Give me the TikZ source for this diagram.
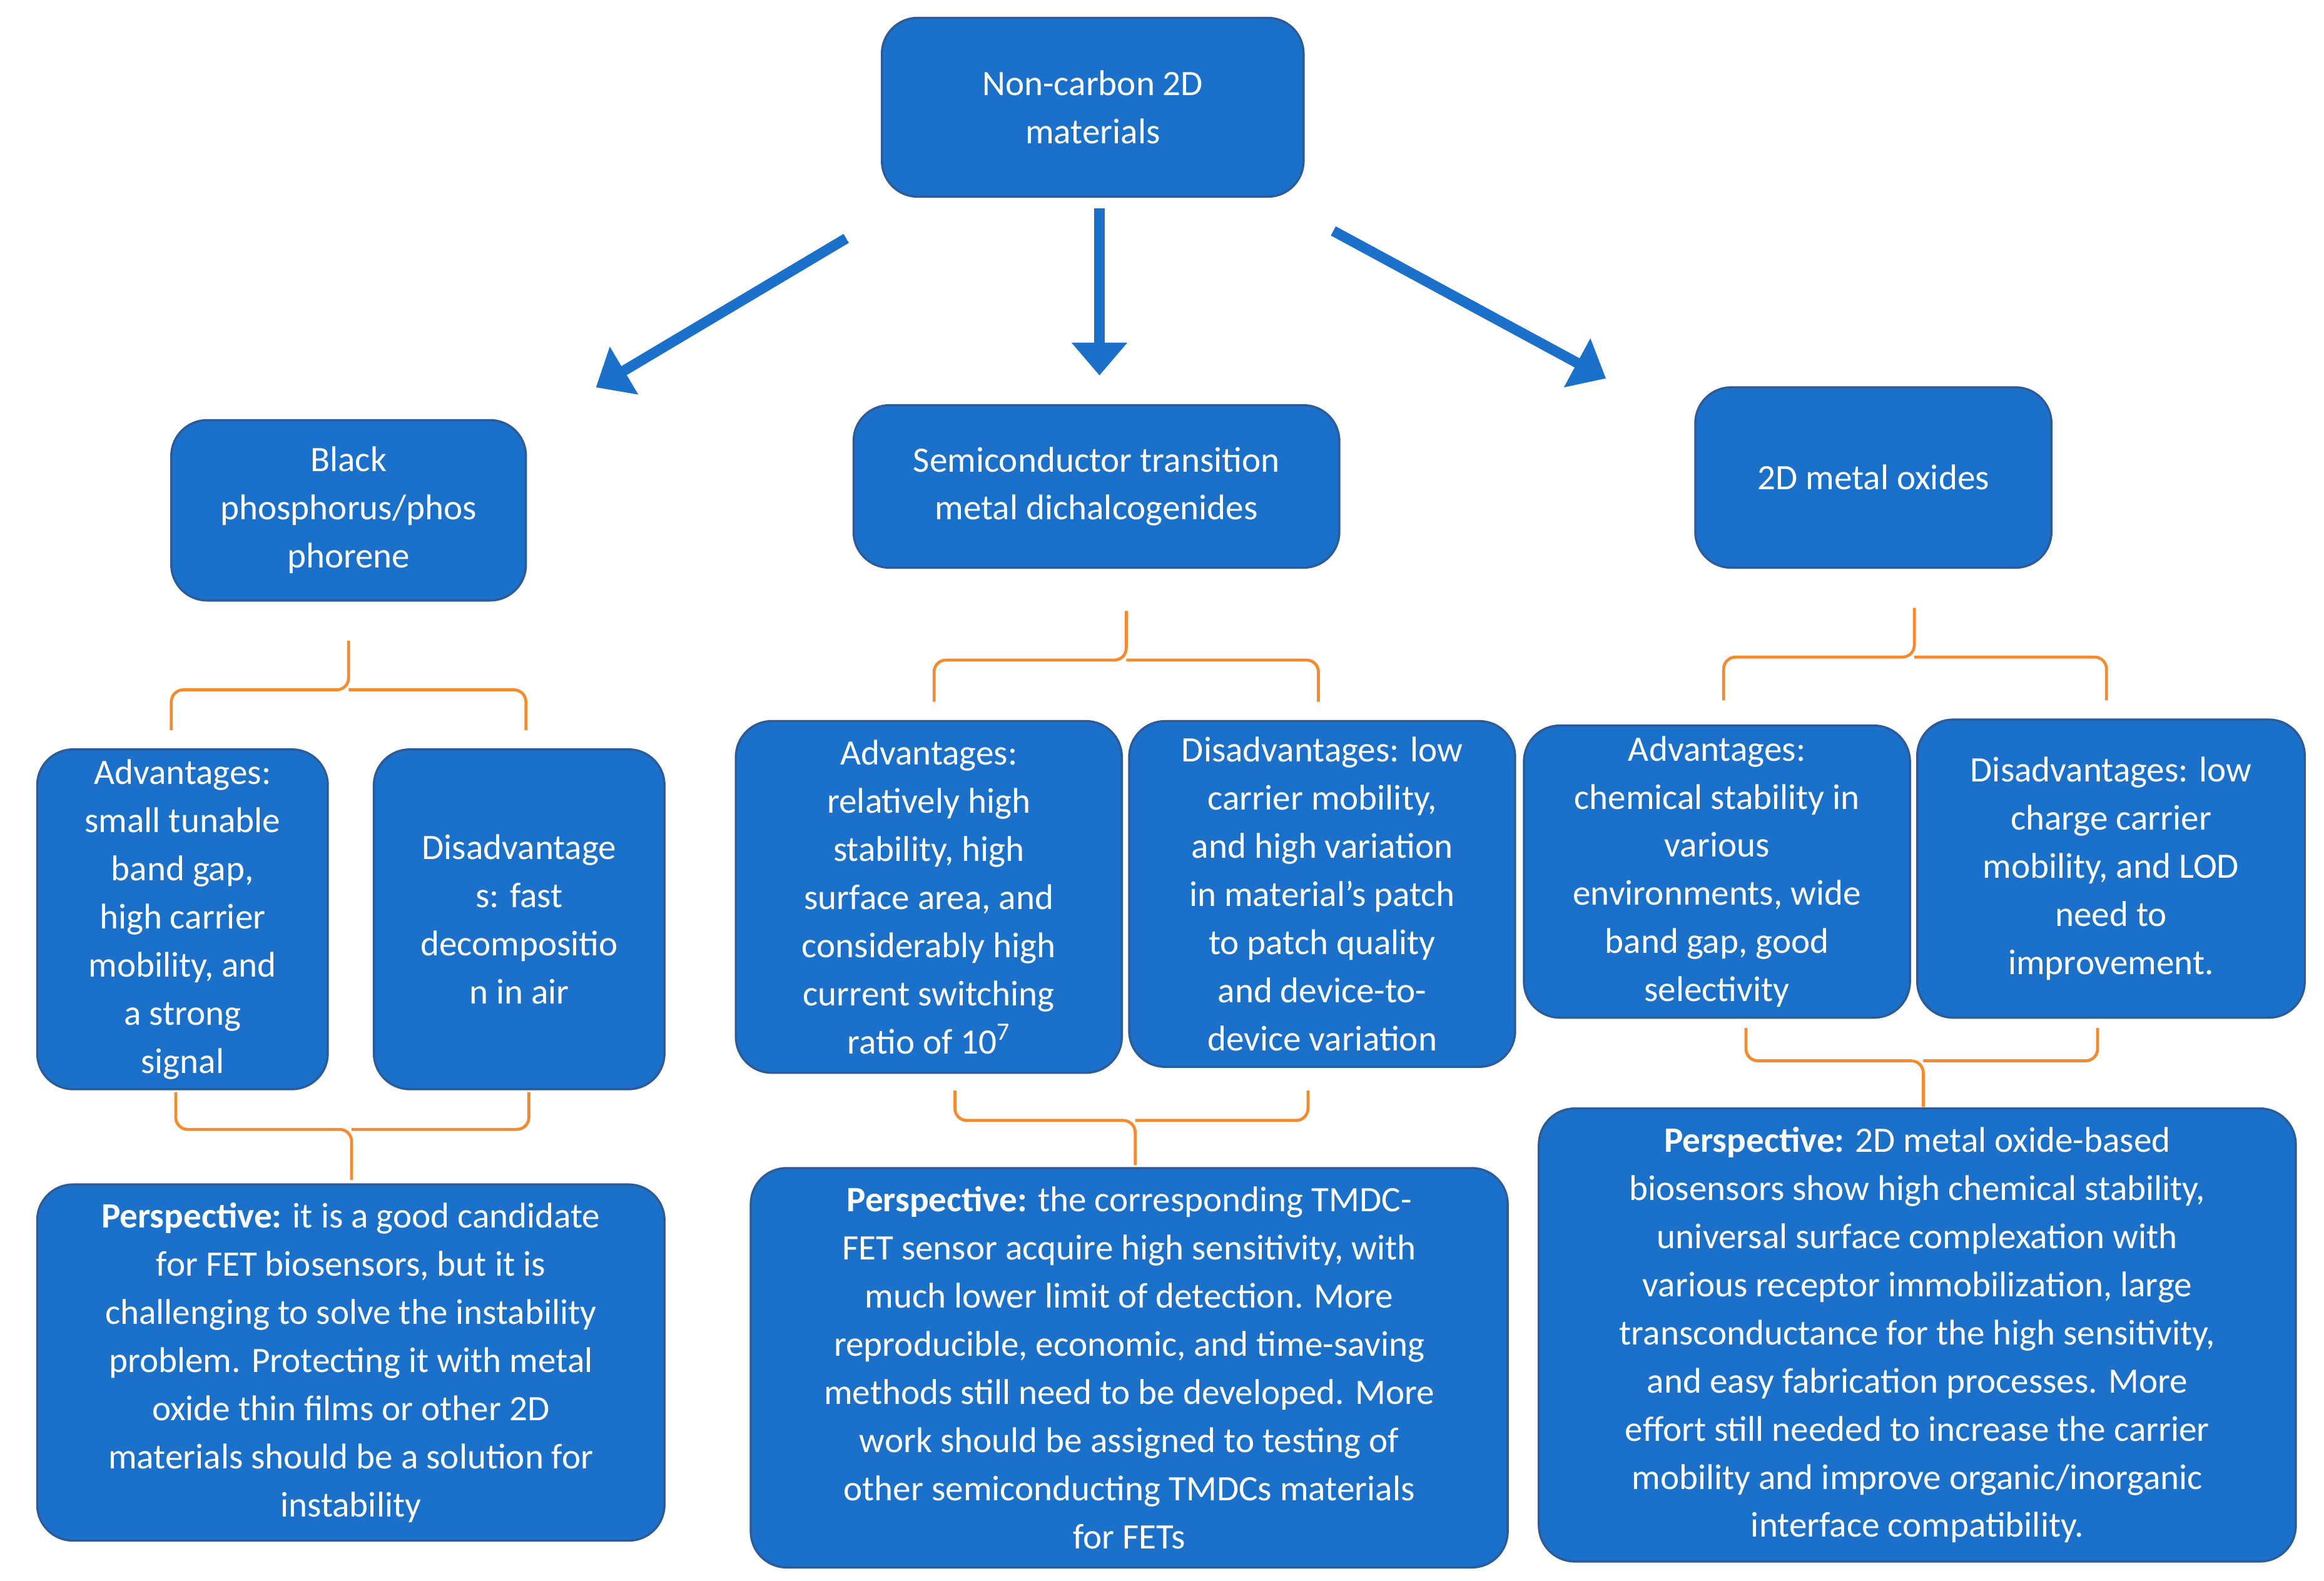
\documentclass[tikz,border=0pt]{standalone}
\usepackage{fontspec}
\setmainfont{Carlito}
\usetikzlibrary{arrows.meta}
\definecolor{boxblue}{HTML}{1B71C9}
\definecolor{edgeblue}{HTML}{2B5B9A}
\definecolor{brace}{HTML}{F58A2E}
\tikzset{
 box/.style={rounded corners=24pt,fill=boxblue,draw=edgeblue,line width=1.5pt,text=white,align=center,inner sep=0pt,font=\fontsize{24}{32.3}\selectfont},
 bigarrow/.style={draw=boxblue,line width=7pt,-{Triangle[length=22pt,width=36pt]}},
 br/.style={draw=brace,line width=2pt,rounded corners=8pt}
}
\newcommand{\mybrace}[6]{% x1 x2 yend ybar xc ytip
 \draw[br] (#1,#3) -- (#1,#4) -- (#5,#4) -- (#5,#6);
 \draw[br] (#2,#3) -- (#2,#4) -- (#5,#4);
}
\begin{document}
\begin{tikzpicture}[x=1pt,y=-1pt]
\useasboundingbox (0,0) rectangle (1560,1061);
\node[box,minimum width=283pt,minimum height=120pt] (top) at (733.5,72) {Non-carbon 2D\\materials};
\node[box,minimum width=238pt,minimum height=121pt] (bp) at (234,342.5) {Black\\phosphorus/phos\\phorene};
\node[box,minimum width=326pt,minimum height=109pt] (tmd) at (736,326.5) {Semiconductor transition\\metal dichalcogenides};
\node[box,minimum width=239pt,minimum height=121pt] (mo) at (1257.5,320.5) {2D metal oxides};
\node[box,minimum width=195pt,minimum height=228pt] (a1) at (122.5,617) {Advantages:\\small tunable\\band gap,\\high carrier\\mobility, and\\a strong\\signal};
\node[box,minimum width=195pt,minimum height=228pt] (d1) at (348.5,617) {Disadvantage\\s: fast\\decompositio\\n in air};
\node[box,minimum width=259pt,minimum height=236pt] (a2) at (623.5,602) {Advantages:\\relatively high\\stability, high\\surface area, and\\considerably high\\current switching\\ratio of 10\textsuperscript{7}};
\node[box,minimum width=259pt,minimum height=232pt] (d2) at (887.5,600) {Disadvantages: low\\carrier mobility,\\and high variation\\in material’s patch\\to patch quality\\and device-to-\\device variation};
\node[box,minimum width=259pt,minimum height=196pt] (a3) at (1152.5,585) {Advantages:\\chemical stability in\\various\\environments, wide\\band gap, good\\selectivity};
\node[box,minimum width=260pt,minimum height=200pt] (d3) at (1417,583) {Disadvantages: low\\charge carrier\\mobility, and LOD\\need to\\improvement.};
\node[box,minimum width=421pt,minimum height=239pt] (p1) at (235.5,914.5) {\textbf{Perspective:} it is a good candidate\\for FET biosensors, but it is\\challenging to solve the instability\\problem. Protecting it with metal\\oxide thin films or other 2D\\materials should be a solution for\\instability};
\node[box,minimum width=508pt,minimum height=268pt] (p2) at (758,918) {\textbf{Perspective:} the corresponding TMDC-\\FET sensor acquire high sensitivity, with\\much lower limit of detection. More\\reproducible, economic, and time-saving\\methods still need to be developed. More\\work should be assigned to testing of\\other semiconducting TMDCs materials\\for FETs};
\node[box,minimum width=508pt,minimum height=304pt] (p3) at (1287,896) {\textbf{Perspective:} 2D metal oxide-based\\biosensors show high chemical stability,\\universal surface complexation with\\various receptor immobilization, large\\transconductance for the high sensitivity,\\and easy fabrication processes. More\\effort still needed to increase the carrier\\mobility and improve organic/inorganic\\interface compatibility.};
\coordinate (s1) at (568,160); \coordinate (e1) at (400,260);
\coordinate (s2) at (738,140); \coordinate (e2) at (738,252);
\coordinate (s3) at (895,155); \coordinate (e3) at (1078,254);
\draw[bigarrow] (s1) -- (e1);
\draw[bigarrow] (s2) -- (e2);
\draw[bigarrow] (s3) -- (e3);
\mybrace{115}{353}{490}{463}{234}{430}
\mybrace{118}{355}{733}{758}{236}{792}
\mybrace{627}{885}{471}{443}{756}{410}
\mybrace{641}{878}{732}{752}{762}{782}
\mybrace{1157}{1414}{470}{441}{1285}{408}
\mybrace{1172}{1408}{690}{712}{1291}{743}
\end{tikzpicture}
\end{document}
